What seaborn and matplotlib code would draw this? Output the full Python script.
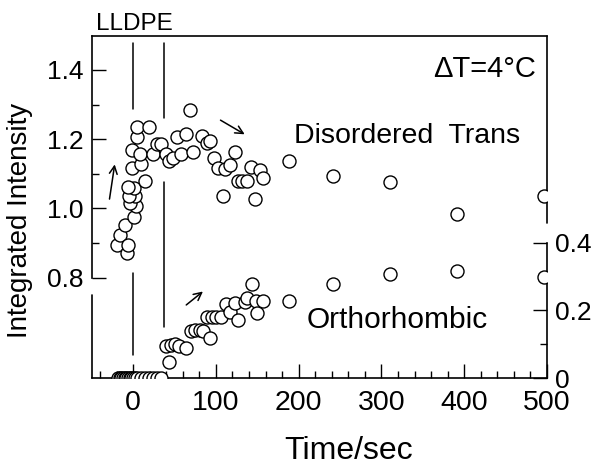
import matplotlib
matplotlib.use("Agg")
import matplotlib.pyplot as plt
from matplotlib.ticker import FixedLocator, MultipleLocator
from matplotlib.lines import Line2D
import pandas as pd
import seaborn as sns

# values
disordered_t = [-19.7, -15.7, -9.7, -7.6, -5.7, 1.6, 3.6, -3.6, 2.4, -4.5,
                1.6, -6.4, 14.5, -1.6, 9.7, -1.8, 8.5, 4.6, 5.1, 19.6,
                23.9, 28.4, 34.2, 39.9, 43.8, 48.7, 58.4, 53.2, 63.5, 68.9,
                72.9, 83.0, 89.0, 93.1, 97.9, 103.1, 111.2, 117.0, 123.3, 108.4,
                126.9, 131.8, 137.4, 142.6, 153.1, 157.5, 147.5, 188.6, 241.4, 309.8,
                391.3, 496.0]
disordered_i = [0.895, 0.924, 0.953, 0.871, 0.895, 0.975, 1.006, 1.016, 1.035, 1.035,
                1.059, 1.061, 1.080, 1.116, 1.129, 1.168, 1.158, 1.205, 1.236, 1.234,
                1.157, 1.187, 1.186, 1.156, 1.137, 1.145, 1.157, 1.205, 1.216, 1.284,
                1.164, 1.208, 1.190, 1.194, 1.145, 1.116, 1.115, 1.126, 1.164, 1.037,
                1.078, 1.078, 1.078, 1.119, 1.110, 1.088, 1.028, 1.136, 1.094, 1.076,
                0.984, 1.037]

ortho_t = [-18, -16, -14, -12, -10, -8, -6, -4, -2, 0,
           2, 5, 10, 14, 19, 24, 29, 34,
           43.9, 39.3, 45.6, 50.8, 56.0, 64.1, 69.5, 74.9, 81.0, 84.2,
           92.5, 89.4, 95.1, 100.3, 106.4, 112.4, 117.2, 123.3, 127.3, 135.4,
           137.8, 143.5, 148.7, 149.3, 157.5, 188.9, 241.4, 309.8, 391.3, 496.0]
ortho_i = [0, 0, 0, 0, 0, 0, 0, 0, 0, 0,
           0, 0, 0, 0, 0, 0, 0, 0,
           0.048, 0.095, 0.099, 0.101, 0.096, 0.090, 0.139, 0.141, 0.142, 0.139,
           0.120, 0.182, 0.182, 0.182, 0.182, 0.219, 0.196, 0.221, 0.172, 0.226,
           0.236, 0.279, 0.229, 0.192, 0.229, 0.229, 0.278, 0.308, 0.318, 0.300]

x_ticks = [0, 100, 200, 300, 400, 500]
left_ticks = [0.8, 1.0, 1.2, 1.4]
left_labels = ["0.8", "1.0", "1.2", "1.4"]
right_ticks = [0, 0.2, 0.4]
right_labels = ["0", "0.2", "0.4"]
marker_times = [0, 37]

df_dis = pd.DataFrame({"t": disordered_t, "I": disordered_i})
df_ort = pd.DataFrame({"t": ortho_t, "I": ortho_i})

sns.set_style("ticks")
plt.rcParams["font.family"] = ["Liberation Sans", "DejaVu Sans"]
for key in ["text.color", "axes.labelcolor", "xtick.color", "ytick.color", "axes.edgecolor"]:
    plt.rcParams[key] = "black"

fig = plt.figure(figsize=(5.96, 4.69), dpi=100)
ax = fig.add_axes([0.1544, 0.194, 0.7634, 0.7292])
ax2 = ax.twinx()

pt_kw = dict(marker="o", s=88, facecolor="white", edgecolor="black",
             linewidth=1.0, zorder=3, legend=False)
sns.scatterplot(data=df_dis, x="t", y="I", ax=ax, **pt_kw)
sns.scatterplot(data=df_ort, x="t", y="I", ax=ax2, **pt_kw)

ax.set_xlim(-49.6, 500)
ax.set_ylim(0.51, 1.498)
ax2.set_ylim(0, 1.013)

# vertical markers of the LLDPE window
ax.axvline(marker_times[0], 0.787, 0.980, color="black", lw=1.1)
ax.axvline(marker_times[0], 0.067, 0.307, color="black", lw=1.1)
ax.axvline(marker_times[1], 0.760, 0.980, color="black", lw=1.1)
ax.axvline(marker_times[1], 0.149, 0.573, color="black", lw=1.1)

# axes and ticks
ax.set_xticks(x_ticks, labels=[str(v) for v in x_ticks])
ax.xaxis.set_minor_locator(MultipleLocator(20))
ax.set_yticks(left_ticks, labels=left_labels)
ax.yaxis.set_minor_locator(FixedLocator([0.9, 1.1, 1.3]))
ax2.set_yticks(right_ticks, labels=right_labels)
ax2.yaxis.set_minor_locator(FixedLocator([0.1, 0.3]))

ax.tick_params(axis="x", which="both", direction="in", top=False, labelsize=20.5, pad=8.5)
ax.tick_params(axis="y", which="both", direction="in", right=False, labelsize=19, pad=6)
ax.tick_params(which="major", length=10, width=1)
ax.tick_params(which="minor", length=5, width=1)
ax2.tick_params(axis="y", which="both", direction="in", labelsize=19, pad=6)
ax2.tick_params(which="major", length=10, width=1)
ax2.tick_params(which="minor", length=5, width=1)

for sp in ax.spines.values():
    sp.set_linewidth(1.2)
ax.spines["right"].set_visible(False)
ax.spines["left"].set_bounds(0.8, 1.498)
for name in ["left", "top", "bottom"]:
    ax2.spines[name].set_visible(False)
ax2.spines["right"].set_linewidth(1.2)
ax2.spines["right"].set_bounds(0, 0.4)
ax.add_line(Line2D([0, 0], [0, 0.243], transform=ax.transAxes, color="black",
                   lw=1.2, clip_on=False))
ax.add_line(Line2D([1, 1], [0.453, 1], transform=ax.transAxes, color="black",
                   lw=1.2, clip_on=False))

ax.set_xlabel("Time/sec", fontsize=23, va="center")
ax.xaxis.set_label_coords(0.563, -0.212)
ax.set_ylabel("Integrated Intensity", fontsize=20, va="center")
ax.yaxis.set_label_coords(-0.158, 0.462)
ax2.set_ylabel("")

# annotations
ax.text(0.093, 1.0175, "LLDPE", transform=ax.transAxes, fontsize=17.5,
        ha="center", va="baseline")
ax.text(0.863, 0.881, "ΔT=4°C", transform=ax.transAxes, fontsize=21,
        ha="center", va="baseline")
ax.text(0.693, 0.686, "Disordered  Trans", transform=ax.transAxes, fontsize=20.5,
        ha="center", va="baseline")
ax.text(0.671, 0.145, "Orthorhombic", transform=ax.transAxes, fontsize=21.5,
        ha="center", va="baseline")

arrow = dict(arrowstyle="->", lw=1.1, color="black", mutation_scale=14)
ax.annotate("", xy=(-21.7, 1.135), xytext=(-29, 1.019), arrowprops=arrow)
ax.annotate("", xy=(137.7, 1.210), xytext=(102.7, 1.259), arrowprops=arrow)
ax.annotate("", xy=(87, 0.765), xytext=(61.6, 0.716), arrowprops=arrow)

fig.savefig("out.png", dpi=100)
